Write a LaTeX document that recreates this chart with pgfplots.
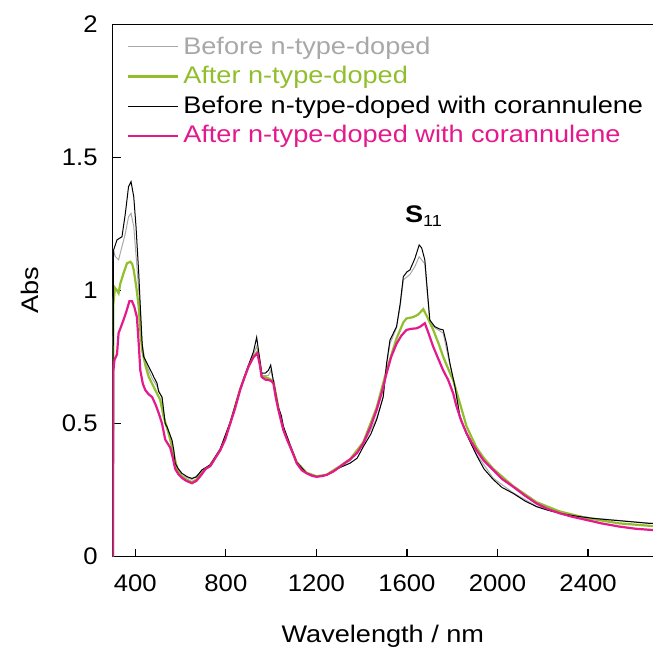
\documentclass[border=0pt]{standalone}
\usepackage{pgfplots}
\pgfplotsset{compat=1.18}
\usepackage{fontspec}
\setmainfont{Liberation Sans}[FakeStretch=1.13]
\newfontfamily\tickfont{Liberation Sans}[FakeStretch=1.07]
\definecolor{lgray}{RGB}{168,168,168}
\definecolor{lgreen}{RGB}{145,190,45}
\definecolor{lpink}{RGB}{228,25,140}
\begin{document}
\begin{tikzpicture}
\begin{axis}[
  scale only axis, width=270.15pt, height=266.2pt,
  xmin=300, xmax=2687, ymin=0, ymax=2,
  axis x line*=bottom, axis y line*=left, axis line style={-, line width=0.6pt},
  tick align=inside, major tick length=4pt, tick style={line width=0.6pt, black},
  xtick={400,800,1200,1600,2000,2400},
  ytick={0,0.5,1,1.5,2},
  yticklabels={0,0.5,1,1.5,2},
  /pgf/number format/assume math mode=true,
  /pgf/number format/set thousands separator={},
  tick label style={font=\tickfont\fontsize{12}{14}\selectfont},
  label style={font=\fontsize{12}{14}\selectfont},
  xticklabel style={yshift=-5.5pt},
  yticklabel style={xshift=-4pt},
  xlabel={Wavelength / nm},
  ylabel={Abs},
  x label style={at={(rel axis cs:0.5,0)}, anchor=center, yshift=-39.6pt},
  y label style={at={(rel axis cs:0,0.5)}, anchor=center, yshift=41.3pt},
  legend cell align=left,
  legend style={at={(rel axis cs:0,1)}, anchor=north west, xshift=7pt, yshift=-4pt,
    draw=none, fill=none, inner sep=0pt, row sep=0.6pt,
    font=\fontsize{12}{14}\selectfont},
  legend image code/.code={\draw[#1] (0pt,0pt) -- (25pt,0pt);},
  clip=true,
]
\addplot[lgray, line width=0.5pt] coordinates {
(301,0) (303,1.15) (312,1.127) (326,1.115) (341,1.165) (356,1.215) (370,1.277) (381,1.29) (393,1.24) (407,1.09) (415,1.00) (422,0.93) (430,0.80) (444,0.73) (459,0.70) (474,0.67) (496,0.64) (518,0.595) (532,0.50) (547,0.46) (562,0.43) (576,0.36) (590,0.325) (606,0.305) (650,0.29) (694,0.32) (731,0.34) (775,0.40) (819,0.50) (863,0.625) (900,0.715) (922,0.76) (936,0.79) (950,0.74) (958,0.68) (988,0.68) (998,0.70) (1010,0.66) (1032,0.555) (1054,0.48) (1084,0.415) (1113,0.353) (1157,0.313) (1201,0.30) (1245,0.307) (1304,0.336) (1348,0.36) (1407,0.42) (1466,0.52) (1495,0.60) (1510,0.72) (1525,0.80) (1554,0.86) (1570,0.94) (1584,1.04) (1613,1.06) (1635,1.09) (1654,1.127) (1679,1.10) (1701,0.88) (1723,0.86) (1760,0.84) (1790,0.72) (1812,0.635) (1834,0.53) (1863,0.465) (1907,0.385) (1981,0.295) (2069,0.24) (2172,0.19) (2275,0.165) (2422,0.145) (2580,0.133) (2687,0.125)
};
\addlegendentry{\textcolor{lgray}{Before n-type-doped}}
\addplot[lgreen, line width=1.1pt] coordinates {
(301,0) (303,0.95) (310,1.01) (319,1.00) (326,0.99) (334,1.027) (348,1.065) (363,1.102) (378,1.108) (386,1.10) (393,1.077) (404,1.014) (415,0.939) (422,0.85) (430,0.776) (444,0.72) (459,0.676) (474,0.65) (488,0.626) (510,0.589) (525,0.526) (547,0.464) (569,0.388) (585,0.33) (606,0.30) (625,0.29) (650,0.28) (670,0.29) (694,0.315) (731,0.345) (775,0.40) (819,0.50) (863,0.63) (900,0.715) (922,0.75) (939,0.77) (950,0.73) (958,0.68) (988,0.67) (1010,0.66) (1032,0.56) (1054,0.48) (1084,0.415) (1113,0.355) (1157,0.315) (1201,0.302) (1245,0.308) (1304,0.34) (1348,0.365) (1407,0.43) (1466,0.56) (1510,0.70) (1554,0.82) (1584,0.88) (1598,0.895) (1628,0.90) (1650,0.91) (1672,0.93) (1690,0.90) (1716,0.852) (1740,0.80) (1760,0.751) (1790,0.69) (1804,0.664) (1834,0.576) (1863,0.49) (1907,0.41) (1940,0.37) (1981,0.33) (2069,0.265) (2172,0.205) (2275,0.17) (2393,0.145) (2539,0.125) (2687,0.115)
};
\addlegendentry{\textcolor{lgreen}{After n-type-doped}}
\addplot[black, line width=0.5pt] coordinates {
(301,0) (303,1.10) (304,1.152) (319,1.19) (341,1.202) (356,1.29) (370,1.39) (381,1.409) (393,1.352) (403,1.24) (415,1.065) (422,0.939) (430,0.80) (437,0.751) (452,0.726) (474,0.689) (481,0.676) (496,0.651) (503,0.62) (518,0.60) (532,0.50) (540,0.488) (562,0.438) (570,0.40) (576,0.351) (590,0.33) (606,0.313) (630,0.30) (650,0.294) (670,0.30) (694,0.326) (731,0.345) (775,0.405) (819,0.505) (863,0.63) (900,0.72) (922,0.77) (936,0.824) (945,0.77) (958,0.69) (975,0.69) (988,0.70) (998,0.72) (1010,0.66) (1032,0.56) (1045,0.53) (1054,0.49) (1084,0.42) (1113,0.355) (1157,0.313) (1201,0.30) (1245,0.307) (1304,0.335) (1348,0.351) (1380,0.37) (1407,0.413) (1440,0.46) (1466,0.514) (1495,0.60) (1510,0.726) (1525,0.814) (1554,0.864) (1570,0.95) (1584,1.052) (1600,1.07) (1613,1.077) (1635,1.12) (1654,1.171) (1665,1.16) (1679,1.115) (1690,1.00) (1701,0.889) (1723,0.864) (1745,0.855) (1760,0.852) (1775,0.80) (1790,0.726) (1812,0.639) (1834,0.526) (1863,0.46) (1907,0.382) (1940,0.33) (1981,0.29) (2020,0.26) (2069,0.238) (2120,0.21) (2172,0.188) (2220,0.175) (2275,0.163) (2350,0.152) (2422,0.144) (2500,0.138) (2580,0.132) (2672,0.125) (2687,0.125)
};
\addlegendentry{\textcolor{black}{Before n-type-doped with corannulene}}
\addplot[lpink, line width=1.1pt] coordinates {
(301,0) (303,0.70) (308,0.74) (319,0.76) (326,0.84) (335,0.86) (348,0.89) (360,0.92) (374,0.96) (385,0.96) (395,0.94) (407,0.90) (415,0.80) (422,0.70) (433,0.65) (444,0.626) (459,0.61) (474,0.60) (490,0.57) (503,0.54) (518,0.50) (532,0.44) (554,0.41) (566,0.37) (576,0.33) (590,0.31) (606,0.296) (625,0.285) (650,0.276) (670,0.285) (694,0.31) (710,0.33) (731,0.34) (753,0.37) (775,0.40) (797,0.44) (819,0.50) (840,0.555) (863,0.626) (885,0.68) (900,0.714) (922,0.75) (939,0.764) (950,0.72) (958,0.675) (975,0.665) (988,0.664) (1000,0.66) (1010,0.651) (1020,0.60) (1032,0.551) (1054,0.476) (1070,0.44) (1084,0.413) (1100,0.38) (1113,0.351) (1135,0.325) (1157,0.313) (1180,0.304) (1201,0.30) (1225,0.303) (1245,0.307) (1275,0.32) (1304,0.338) (1330,0.355) (1348,0.365) (1380,0.39) (1407,0.426) (1440,0.49) (1466,0.551) (1490,0.62) (1510,0.689) (1530,0.75) (1554,0.80) (1575,0.83) (1598,0.852) (1620,0.856) (1643,0.858) (1660,0.865) (1679,0.877) (1695,0.84) (1716,0.789) (1740,0.74) (1760,0.70) (1782,0.664) (1804,0.614) (1819,0.564) (1840,0.51) (1863,0.464) (1885,0.43) (1907,0.40) (1940,0.36) (1981,0.326) (2020,0.292) (2069,0.263) (2120,0.23) (2172,0.20) (2220,0.18) (2275,0.163) (2330,0.15) (2393,0.138) (2460,0.125) (2539,0.113) (2610,0.105) (2687,0.10)
};
\addlegendentry{\textcolor{lpink}{After n-type-doped with corannulene}}
\node[font=\fontsize{12}{14}\selectfont] at (axis cs:1675,1.28) {\textbf{S}\textsubscript{11}};
\draw[line width=0.6pt] (rel axis cs:0,1) -- (rel axis cs:1,1);
\end{axis}
\pgfresetboundingbox
\path (current axis.south west) ++(-56.35pt,-46.65pt) coordinate (bbsw);
\path (current axis.north east) ++(0pt,12.15pt) coordinate (bbne);
\useasboundingbox (bbsw) rectangle (bbne);
\end{tikzpicture}
\end{document}
